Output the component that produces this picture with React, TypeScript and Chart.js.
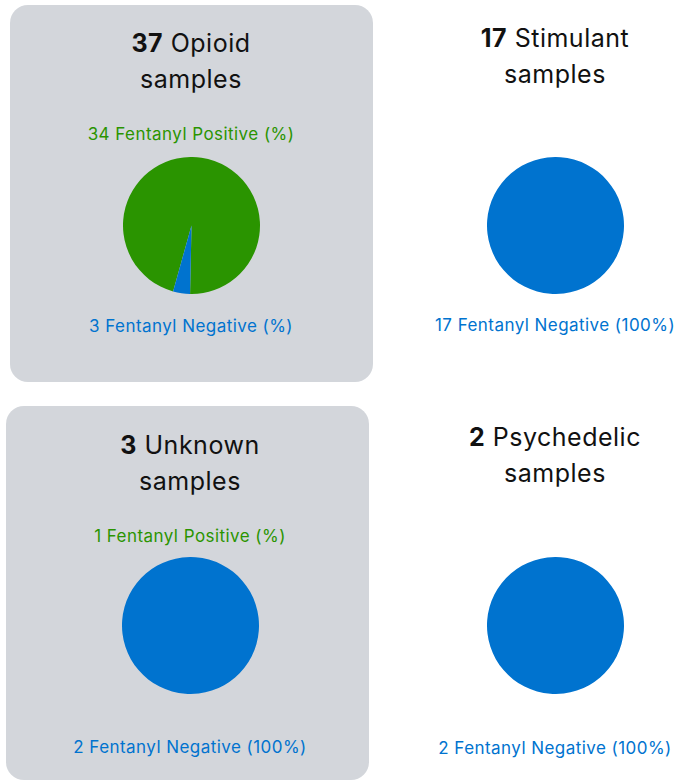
import React, { useEffect, useRef } from "react";
import { Chart, registerables } from "chart.js";

Chart.register(...registerables);

const categories = ["Opioid", "Stimulant", "Unknown", "Psychedelic"];
const totals = [37, 17, 3, 2];
const positiveCounts = [34, 0, 1, 0];
const negativeCounts = [3, 17, 2, 2];
const positivePctText = ["", "", "", ""];
const negativePctText = ["", "100", "100", "100"];
// slice shares as drawn in the pies
const positiveShare = [96, 0, 0, 0];
const negativeShare = [4, 100, 100, 100];
const sliceLabels = ["Fentanyl Positive", "Fentanyl Negative"];

const GREEN = "#2a9400";
const BLUE = "#0073cf";
const PANEL = "#d3d6db";
const FONT = "Inter, 'DejaVu Sans', sans-serif";

type Layout = {
  cx: number;
  t1: number;
  t2: number;
  pos?: number;
  pieY: number;
  neg: number;
  panel?: { x: number; y: number; w: number; h: number };
};

const layouts: Layout[] = [
  { cx: 191, t1: 43, t2: 79, pos: 134, pieY: 225, neg: 326, panel: { x: 10, y: 5, w: 363, h: 377 } },
  { cx: 555, t1: 38, t2: 74, pieY: 225, neg: 325 },
  { cx: 190, t1: 445, t2: 481, pos: 536, pieY: 625, neg: 747, panel: { x: 6, y: 406, w: 363, h: 374 } },
  { cx: 555, t1: 437, t2: 473, pieY: 625, neg: 748 },
];

const R = 68.5;

function Pie({ idx }: { idx: number }) {
  const ref = useRef<HTMLCanvasElement>(null);
  useEffect(() => {
    if (!ref.current) return;
    const chart = new Chart(ref.current, {
      type: "pie",
      data: {
        labels: sliceLabels,
        datasets: [
          {
            data: [positiveShare[idx], negativeShare[idx]],
            backgroundColor: [GREEN, BLUE],
            borderWidth: 0,
          },
        ],
      },
      options: {
        animation: false,
        responsive: true,
        maintainAspectRatio: false,
        rotation: 195.6,
        layout: { padding: 0 },
        plugins: { legend: { display: false }, tooltip: { enabled: false } },
      },
    });
    return () => chart.destroy();
  }, [idx]);
  const l = layouts[idx];
  return (
    <div
      style={{
        position: "absolute",
        left: l.cx - R,
        top: l.pieY - R,
        width: R * 2,
        height: R * 2,
      }}
    >
      <canvas ref={ref} />
    </div>
  );
}

function TextLine({
  cx,
  cy,
  size,
  spacing,
  color,
  children,
}: {
  cx: number;
  cy: number;
  size: number;
  spacing: number;
  color: string;
  children: React.ReactNode;
}) {
  const lh = Math.round(size * 1.3);
  return (
    <div
      style={{
        position: "absolute",
        left: cx - 200,
        width: 400,
        top: cy - lh / 2,
        height: lh,
        lineHeight: lh + "px",
        textAlign: "center",
        fontSize: size,
        letterSpacing: spacing,
        color,
        whiteSpace: "nowrap",
        fontFamily: FONT,
      }}
    >
      {children}
    </div>
  );
}

export default function App() {
  return (
    <div
      style={{
        position: "fixed",
        left: 0,
        top: 0,
        width: 674,
        height: 780,
        background: "#fff",
        overflow: "hidden",
        fontFamily: FONT,
      }}
    >
      {categories.map((cat, i) => {
        const l = layouts[i];
        return (
          <React.Fragment key={cat}>
            {l.panel && (
              <div
                style={{
                  position: "absolute",
                  left: l.panel.x,
                  top: l.panel.y,
                  width: l.panel.w,
                  height: l.panel.h,
                  background: PANEL,
                  borderRadius: 18,
                }}
              />
            )}
            <TextLine cx={l.cx} cy={l.t1} size={25} spacing={0.5} color="#111">
              <b style={{ fontWeight: 700 }}>{totals[i]}</b> {cat}
            </TextLine>
            <TextLine cx={l.cx} cy={l.t2} size={25} spacing={0.5} color="#111">
              samples
            </TextLine>
            {positiveCounts[i] > 0 && l.pos !== undefined && (
              <TextLine cx={l.cx} cy={l.pos} size={17} spacing={0.45} color={GREEN}>
                {positiveCounts[i]} Fentanyl Positive ({positivePctText[i]}%)
              </TextLine>
            )}
            <Pie idx={i} />
            <TextLine cx={l.cx} cy={l.neg} size={17} spacing={0.45} color={BLUE}>
              {negativeCounts[i]} Fentanyl Negative ({negativePctText[i]}%)
            </TextLine>
          </React.Fragment>
        );
      })}
    </div>
  );
}
